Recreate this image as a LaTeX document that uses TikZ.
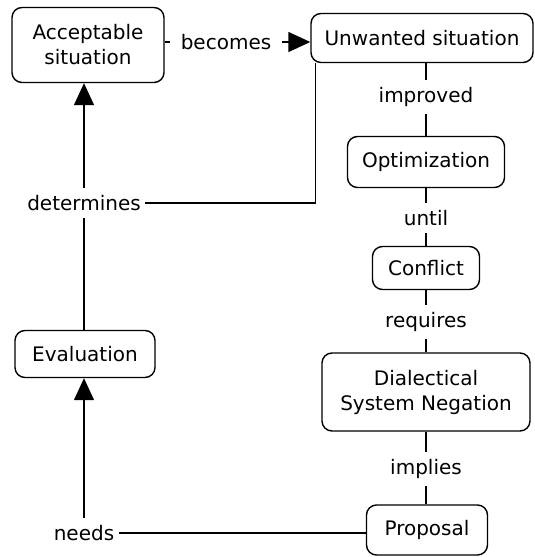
\documentclass[tikz,border=0pt]{standalone}
\usepackage{fontspec}
\setmainfont{DejaVu Sans}
\usetikzlibrary{arrows.meta}

\begin{document}
\begin{tikzpicture}[x=1pt,y=-1pt,line width=1.4pt,
  every node/.style={font=\fontsize{20}{25}\selectfont},
  concept/.style={draw,rounded corners=10pt,align=center,inner sep=2pt},
  link/.style={inner xsep=4pt,inner ysep=7pt},
  arr/.style={-{Triangle[length=22pt,width=20pt]}}]
\useasboundingbox (0,0) rectangle (535,557);
% concepts
\node [concept,minimum width=152pt,minimum height=75pt] (acc) at (88,45) {Acceptable\\situation};
\node [concept,minimum width=222pt,minimum height=49pt] (unw) at (422,38) {Unwanted situation};
\node [concept,minimum width=157pt,minimum height=51pt] (opt) at (426,162) {Optimization};
\node [concept,minimum width=107pt,minimum height=43pt] (con) at (426,268) {Conflict};
\node [concept,minimum width=208pt,minimum height=78pt] (dia) at (426,392) {Dialectical\\System Negation};
\node [concept,minimum width=121pt,minimum height=50pt] (pro) at (427,530) {Proposal};
\node [concept,minimum width=140pt,minimum height=47pt] (eva) at (85,354) {Evaluation};
% linking phrases
\node [link,inner xsep=10pt] (becomes) at (226,42) {becomes};
\node [link] (improved) at (426,97) {improved};
\node [link] (until) at (426,218) {until};
\node [link] (requires) at (426,322) {requires};
\node [link] (implies) at (426,469) {implies};
\node [link] (determines) at (84,203) {determines};
\node [link] (needs) at (84,533) {needs};
% connectors
\draw (acc.east |- becomes.west) -- (becomes.west);
\draw [arr] (becomes.east) -- (unw.west |- becomes.east);
\draw (improved |- unw.south) -- (improved.north);
\draw (improved.south) -- (opt.north -| improved);
\draw (until |- opt.south) -- (until.north);
\draw (until.south) -- (con.north -| until);
\draw (requires |- con.south) -- (requires.north);
\draw (requires.south) -- (dia.north -| requires);
\draw (implies |- dia.south) -- (implies.north);
\draw (implies.south) -- (pro.north -| implies);
\draw (eva.north -| determines) -- (determines.south);
\draw [arr] (determines.north) -- (determines |- acc.south);
\draw (determines.east) -| ([xshift=5pt]unw.south west);
\draw (pro.west |- needs.east) -- (needs.east);
\draw [arr] (needs.north) -- (needs |- eva.south);
\end{tikzpicture}
\end{document}
